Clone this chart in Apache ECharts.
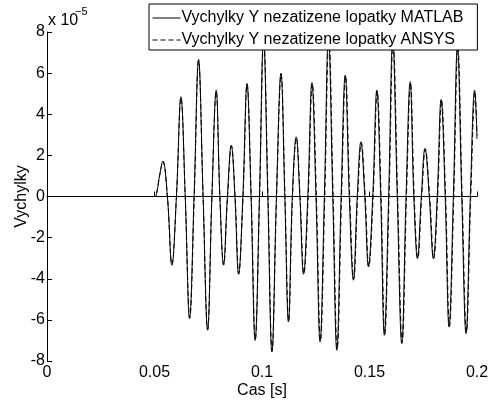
<!DOCTYPE html>
<html>
<head>
<meta charset="utf-8">
<script src="https://cdn.jsdelivr.net/npm/echarts@6/dist/echarts.min.js"></script>
<style>html,body{margin:0;padding:0;background:#fff}#c{width:494px;height:400px}</style>
</head>
<body>
<div id="c"></div>
<script>
// Values in units of 1e-5
var xTicks = [0, 0.05, 0.1, 0.15, 0.2];
var yTicks = [-8, -6, -4, -2, 0, 2, 4, 6, 8];
var seriesNames = ['Vychylky Y nezatizene lopatky MATLAB', 'Vychylky Y nezatizene lopatky ANSYS'];

var matlabT = [0, 0.0490, 0.0503, 0.0511, 0.0525, 0.0539, 0.0560, 0.0581, 0.0602, 0.0623, 0.0643, 0.0663, 0.0684, 0.0705, 0.0726, 0.0747, 0.0767, 0.0787, 0.0804, 0.0821, 0.0839, 0.0857, 0.0874, 0.0891, 0.0911, 0.0930, 0.0949, 0.0968, 0.0988, 0.1007, 0.1027, 0.1046, 0.1067, 0.1088, 0.1106, 0.1123, 0.1141, 0.1159, 0.1176, 0.1193, 0.1213, 0.1232, 0.1251, 0.1270, 0.1290, 0.1309, 0.1329, 0.1348, 0.1368, 0.1387, 0.1406, 0.1425, 0.1443, 0.1460, 0.1478, 0.1495, 0.1515, 0.1534, 0.1552, 0.1569, 0.1589, 0.1608, 0.1629, 0.1650, 0.1670, 0.1689, 0.1706, 0.1723, 0.1741, 0.1758, 0.1778, 0.1797, 0.1815, 0.1833, 0.1852, 0.1870, 0.1890, 0.1909, 0.1929, 0.1949, 0.1969, 0.1989, 0.2000];
var matlabV = [0, 0, 0, 0.22, 1.10, 1.72, 0, -3.34, 0, 4.85, 0, -5.94, 0, 6.67, 0, -6.50, 0, 5.17, 0, -3.34, 0, 2.50, 0, -3.78, 0, 5.50, 0, -7.00, 0, 7.70, 0, -7.56, 0, 6.00, 0, -6.10, 0, 2.90, 0, -3.78, 0, 5.53, 0, -7.07, 0, 7.80, 0, -7.48, 0, 5.90, 0, -4.07, 0, 2.66, 0, -3.42, 0, 5.17, 0, -6.75, 0, 7.60, 0, -7.15, 0, 5.58, 0, -3.02, 0, 2.34, 0, -3.02, 0, 4.72, 0, -6.35, 0, 7.30, 0, -6.67, 0, 5.17, 2.98];

var ansysT = [0, 0.0490, 0.0503, 0.0511, 0.0525, 0.0539, 0.0560, 0.0581, 0.0602, 0.0623, 0.0643, 0.0664, 0.0685, 0.0705, 0.0726, 0.0747, 0.0767, 0.0787, 0.0804, 0.0822, 0.0840, 0.0858, 0.0875, 0.0892, 0.0912, 0.0931, 0.0950, 0.0969, 0.0989, 0.1008, 0.1028, 0.1047, 0.1068, 0.1089, 0.1107, 0.1124, 0.1142, 0.1160, 0.1177, 0.1195, 0.1215, 0.1234, 0.1253, 0.1272, 0.1292, 0.1311, 0.1331, 0.1350, 0.1370, 0.1389, 0.1408, 0.1427, 0.1445, 0.1462, 0.1480, 0.1497, 0.1517, 0.1536, 0.1554, 0.1571, 0.1591, 0.1610, 0.1631, 0.1652, 0.1672, 0.1691, 0.1708, 0.1725, 0.1743, 0.1760, 0.1780, 0.1799, 0.1817, 0.1835, 0.1854, 0.1872, 0.1892, 0.1911, 0.1931, 0.1951, 0.1971, 0.1991, 0.2000];
var ansysV = [0, 0, 0, 0.21, 1.08, 1.70, 0, -3.30, 0, 4.80, 0, -5.90, 0, 6.60, 0, -6.45, 0, 5.10, 0, -3.30, 0, 2.45, 0, -3.75, 0, 5.45, 0, -6.95, 0, 7.65, 0, -7.50, 0, 5.95, 0, -6.05, 0, 2.85, 0, -3.75, 0, 5.50, 0, -7.00, 0, 7.75, 0, -7.40, 0, 5.85, 0, -4.00, 0, 2.60, 0, -3.40, 0, 5.12, 0, -6.70, 0, 7.55, 0, -7.10, 0, 5.52, 0, -3.00, 0, 2.30, 0, -3.00, 0, 4.68, 0, -6.30, 0, 7.25, 0, -6.60, 0, 5.10, 2.70];

function pairs(t, v) { var out = []; for (var i = 0; i < t.length; i++) out.push([t[i], v[i]]); return out; }

var FONT = 'Liberation Sans, Arial, Helvetica, sans-serif';
var FS = 16;
var chart = echarts.init(document.getElementById('c'), null, { renderer: 'canvas' });
chart.setOption({
  animation: false,
  backgroundColor: '#fff',
  textStyle: { fontFamily: FONT },
  grid: { left: 47, right: 17, top: 32, bottom: 39, containLabel: false, outerBoundsMode: 'none' },
  xAxis: {
    type: 'value', min: xTicks[0], max: xTicks[xTicks.length - 1], interval: 0.05,
    name: 'Cas [s]', nameLocation: 'middle', nameGap: 22, nameMoveOverlap: false,
    nameTextStyle: { color: '#000', fontSize: FS, fontFamily: FONT },
    axisLine: { lineStyle: { color: '#000', width: 1 } },
    axisTick: { inside: true, length: 5, lineStyle: { color: '#000' } },
    axisLabel: { color: '#000', fontSize: FS, fontFamily: FONT, margin: 4,
      formatter: function (v) { return String(parseFloat(v.toFixed(4))); } },
    splitLine: { show: false }
  },
  yAxis: {
    type: 'value', min: yTicks[0], max: yTicks[yTicks.length - 1], interval: 2,
    name: 'Vychylky', nameLocation: 'middle', nameGap: 17, nameRotate: 90, nameMoveOverlap: false,
    nameTextStyle: { color: '#000', fontSize: FS, fontFamily: FONT },
    axisLine: { show: true, lineStyle: { color: '#000', width: 1 } },
    axisTick: { show: true, inside: true, length: 5, lineStyle: { color: '#000' } },
    axisLabel: { color: '#000', fontSize: FS, fontFamily: FONT, margin: 2,
      formatter: function (v) { return String(v); } },
    splitLine: { show: false }
  },
  legend: {
    orient: 'vertical', left: 149, top: 4,
    data: seriesNames,
    backgroundColor: '#fff', borderColor: '#000', borderWidth: 1,
    padding: [6, 14, 2, 3], itemGap: 6, itemWidth: 28, itemHeight: 14,
    itemStyle: { opacity: 0 },
    lineStyle: { width: 1 },
    textStyle: { color: '#000', fontSize: FS, fontFamily: FONT, padding: [0, 0, 0, -4] },
    z: 10
  },
  graphic: [
    { type: 'text', left: 48, top: 13, z: 20, style: { text: 'x 10', fontSize: FS, fontFamily: FONT, fill: '#000' } },
    { type: 'text', left: 75, top: 6, z: 20, style: { text: '\u22125', fontSize: 11, fontFamily: FONT, fill: '#000' } }
  ],
  series: [
    { name: seriesNames[0], type: 'line', data: pairs(matlabT, matlabV), smooth: 0.4, symbol: 'none',
      lineStyle: { color: '#000', width: 1 }, itemStyle: { color: '#000' }, z: 2 },
    { name: seriesNames[1], type: 'line', data: pairs(ansysT, ansysV), smooth: 0.4, symbol: 'none',
      lineStyle: { color: '#000', width: 1, type: [5, 3] }, itemStyle: { color: '#000' }, z: 3 }
  ]
});
</script>
</body>
</html>
